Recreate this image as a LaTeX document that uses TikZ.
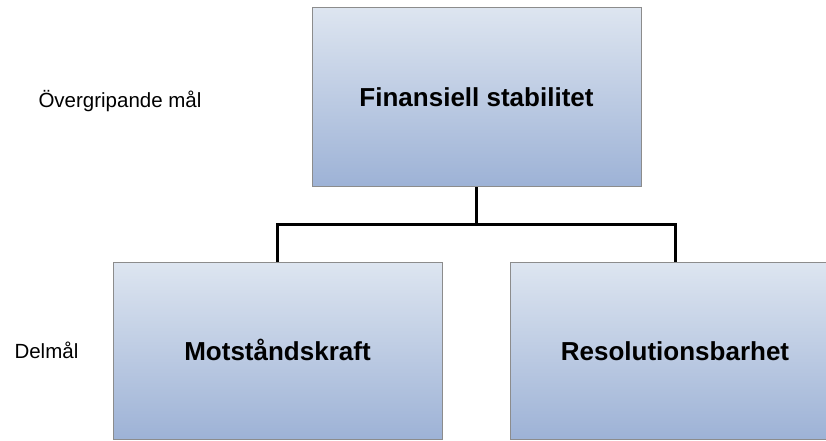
\documentclass[tikz,border=0pt]{standalone}
\usepackage{fontspec}
\setmainfont{Liberation Sans}
\definecolor{boxtop}{RGB}{221,229,240}
\definecolor{boxbottom}{RGB}{157,178,214}
\definecolor{boxline}{RGB}{140,140,140}
\begin{document}
\begin{tikzpicture}[x=1pt,y=1pt,
        goal/.style={draw=boxline, line width=1pt, top color=boxtop, bottom color=boxbottom,
            minimum width=329pt, minimum height=179pt, inner sep=0pt,
            text height=19pt, text depth=0pt,
            font=\fontsize{26}{30}\selectfont\bfseries},
        level/.style={anchor=base west, font=\fontsize{20.5}{24}\selectfont},
        link/.style={line width=3pt}]
        \useasboundingbox (0,0) rectangle (826,441);
        \clip (0,0) rectangle (826,441);

        \node [goal] (fin) at (476.5,343.5) {Finansiell stabilitet};
        \node [goal, minimum height=177pt] (mot) at (277.5,89.5) {Motståndskraft};
        \node [goal, minimum height=177pt, minimum width=330pt] (res) at (675,89.5) {Resolutionsbarhet};

        \node [level] (over) at (35,333) {Övergripande mål};
        \node [level] (del) at (11,82) {Delmål};

        \coordinate (split) at (476.5,216);
        \draw[link] (fin.south) -- (split) -| (mot.north);
        \draw[link] (split) -| (res.north);
    \end{tikzpicture}
\end{document}
